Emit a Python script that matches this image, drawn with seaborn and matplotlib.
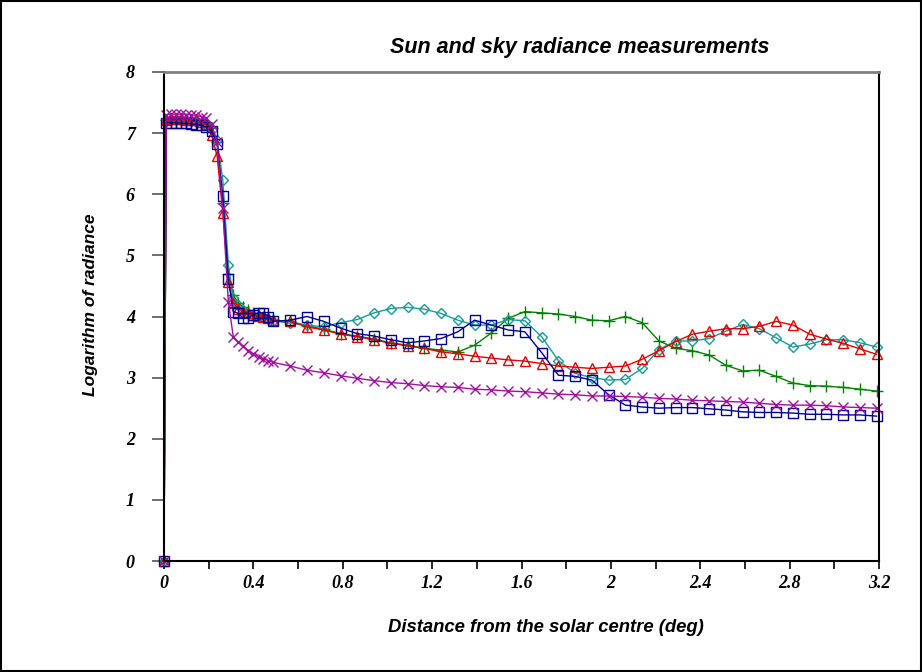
import matplotlib
matplotlib.use("Agg")
import matplotlib.pyplot as plt
import seaborn as sns
import pandas as pd
from matplotlib.patches import Rectangle

# ---- data ----
x_dense = [0, 0.01, 0.033, 0.055, 0.078, 0.1, 0.123, 0.145, 0.168, 0.19, 0.213,
           0.238, 0.263, 0.288, 0.31, 0.333, 0.355, 0.378, 0.4, 0.423, 0.445, 0.467, 0.488]
x_sparse = [0.565, 0.64, 0.715, 0.79, 0.865, 0.94, 1.015, 1.09, 1.165, 1.24, 1.315, 1.39,
            1.465, 1.54, 1.615, 1.69, 1.765, 1.84, 1.915, 1.99, 2.065, 2.14, 2.215, 2.29,
            2.365, 2.44, 2.515, 2.59, 2.665, 2.74, 2.815, 2.89, 2.965, 3.04, 3.115, 3.19]
distance = x_dense + x_sparse

blue_sq = [0, 7.17, 7.17, 7.17, 7.16, 7.16, 7.15, 7.14, 7.13, 7.10, 7.03, 6.82, 5.97, 4.61,
           4.08, 4.05, 3.97, 3.98, 4.03, 4.06, 4.06, 4.0, 3.92,
           3.94, 4.0, 3.92, 3.81, 3.72, 3.68, 3.62, 3.57, 3.60, 3.64, 3.75, 3.94, 3.86, 3.78,
           3.75, 3.41, 3.04, 3.02, 2.96, 2.72, 2.55, 2.52, 2.50, 2.51, 2.51, 2.49, 2.47, 2.44,
           2.43, 2.43, 2.42, 2.40, 2.40, 2.39, 2.39, 2.37]
teal_dm = [0, 7.2, 7.21, 7.21, 7.21, 7.2, 7.2, 7.19, 7.17, 7.13, 7.05, 6.88, 6.24, 4.85,
           4.3, 4.18, 4.1, 4.06, 4.03, 4.01, 3.99, 3.96, 3.93,
           3.89, 3.86, 3.83, 3.90, 3.95, 4.06, 4.13, 4.15, 4.12, 4.05, 3.94, 3.86, 3.86, 3.95,
           3.93, 3.67, 3.28, 3.07, 3.0, 2.96, 2.97, 3.15, 3.46, 3.60, 3.60, 3.64, 3.76, 3.87,
           3.80, 3.65, 3.50, 3.55, 3.62, 3.62, 3.57, 3.50]
green_pl = [0, 7.22, 7.23, 7.23, 7.23, 7.23, 7.22, 7.21, 7.19, 7.16, 7.08, 6.85, 5.85, 4.7,
            4.35, 4.22, 4.15, 4.1, 4.06, 4.03, 4.0, 3.97, 3.94,
            3.92, 3.85, 3.79, 3.72, 3.68, 3.63, 3.57, 3.53, 3.48, 3.45, 3.42, 3.53, 3.73, 3.97,
            4.08, 4.06, 4.04, 4.00, 3.94, 3.93, 4.00, 3.90, 3.60, 3.48, 3.44, 3.37, 3.20, 3.11,
            3.12, 3.02, 2.91, 2.87, 2.86, 2.84, 2.81, 2.78]
red_tr = [0, 7.22, 7.23, 7.23, 7.23, 7.22, 7.22, 7.21, 7.19, 7.15, 6.97, 6.62, 5.70, 4.57,
          4.22, 4.13, 4.08, 4.05, 4.02, 4.01, 3.99, 3.97, 3.94,
          3.92, 3.83, 3.78, 3.71, 3.67, 3.62, 3.56, 3.52, 3.48, 3.42, 3.39, 3.35, 3.32, 3.29,
          3.27, 3.23, 3.19, 3.17, 3.15, 3.17, 3.19, 3.30, 3.44, 3.59, 3.71, 3.76, 3.80, 3.80,
          3.84, 3.92, 3.86, 3.71, 3.63, 3.56, 3.47, 3.38]
magenta_x = [0, 7.3, 7.31, 7.31, 7.31, 7.3, 7.3, 7.29, 7.27, 7.24, 7.15, 6.85, 5.77, 4.24,
             3.67, 3.58, 3.51, 3.44, 3.39, 3.34, 3.31, 3.28, 3.25,
             3.19, 3.12, 3.08, 3.03, 2.99, 2.95, 2.92, 2.90, 2.87, 2.85, 2.84, 2.81, 2.80, 2.78,
             2.77, 2.75, 2.73, 2.72, 2.70, 2.70, 2.69, 2.68, 2.66, 2.65, 2.63, 2.62, 2.61, 2.60,
             2.58, 2.56, 2.55, 2.55, 2.54, 2.52, 2.51, 2.50]

x_ticks = [0, 0.2, 0.4, 0.6, 0.8, 1.0, 1.2, 1.4, 1.6, 1.8, 2.0, 2.2, 2.4, 2.6, 2.8, 3.0, 3.2]
x_ticklabels = ["0", "", "0.4", "", "0.8", "", "1.2", "", "1.6", "", "2", "", "2.4", "",
                "2.8", "", "3.2"]
y_ticks = [0, 1, 2, 3, 4, 5, 6, 7, 8]

title = "Sun and sky radiance measurements"
xlabel = "Distance from the solar centre (deg)"
ylabel = "Logarithm of radiance"

# ---- plot ----
sns.set_theme(style="white")
plt.rcParams["font.family"] = ["Liberation Sans", "DejaVu Sans"]

fig = plt.figure(figsize=(9.22, 6.72), dpi=100)
ax = fig.add_axes([164 / 922, 111 / 672, 715 / 922, 489 / 672])

series = [
    (green_pl, "#008000", "+", 8.5, 1.0),
    (teal_dm, "#1A9999", "D", 5.5, 1.0),
    (red_tr, "#E00000", "^", 7.5, 1.0),
    (blue_sq, "#000090", "s", 7, 1.0),
    (magenta_x, "#A0109F", "x", 7, 1.0),
]
for vals, col, mk, ms, lw in series:
    df = pd.DataFrame({"distance": distance, "value": vals})
    sns.lineplot(data=df, x="distance", y="value", ax=ax, color=col, lw=lw,
                 marker=mk, markersize=ms, markerfacecolor="none",
                 markeredgecolor=col, markeredgewidth=1.0, sort=False,
                 estimator=None, clip_on=False)

ax.set_xlim(0, 3.2)
ax.set_ylim(0, 8)
ax.set_xticks(x_ticks)
ax.set_xticklabels(x_ticklabels)
ax.set_yticks(y_ticks)
ax.set_xlabel("")
ax.set_ylabel("")

for lab in ax.get_xticklabels() + ax.get_yticklabels():
    lab.set_fontfamily("Liberation Serif")
    lab.set_fontweight("bold")
    lab.set_fontstyle("italic")
    lab.set_fontsize(13)
    lab.set_color("black")

ax.tick_params(axis="x", direction="out", length=6, width=1.2, color="black", pad=4,
               bottom=True)
ax.tick_params(axis="y", direction="out", length=9, width=1.2, color="#555555", pad=12,
               left=True)

for side in ["left", "bottom", "right"]:
    ax.spines[side].set_visible(True)
    ax.spines[side].set_color("black")
    ax.spines[side].set_linewidth(1.5)
ax.spines["top"].set_visible(True)
ax.spines["top"].set_color("#808080")
ax.spines["top"].set_linewidth(2.0)

fig.text(580 / 922, 1 - 47 / 672, title, ha="center", va="center",
         fontsize=15.5, fontweight="bold", fontstyle="italic", color="black")
fig.text(546 / 922, 1 - 628 / 672, xlabel, ha="center", va="center",
         fontsize=13.3, fontweight="bold", fontstyle="italic", color="black")
fig.text(91 / 922, 1 - 305 / 672, ylabel, ha="center", va="center", rotation=90,
         fontsize=12.5, fontweight="bold", fontstyle="italic", color="black")

fig.patches.append(Rectangle((0.0015, 0.002), 0.997, 0.996, transform=fig.transFigure,
                             fill=False, edgecolor="black", linewidth=1.5))

fig.savefig("out.png", dpi=100)
